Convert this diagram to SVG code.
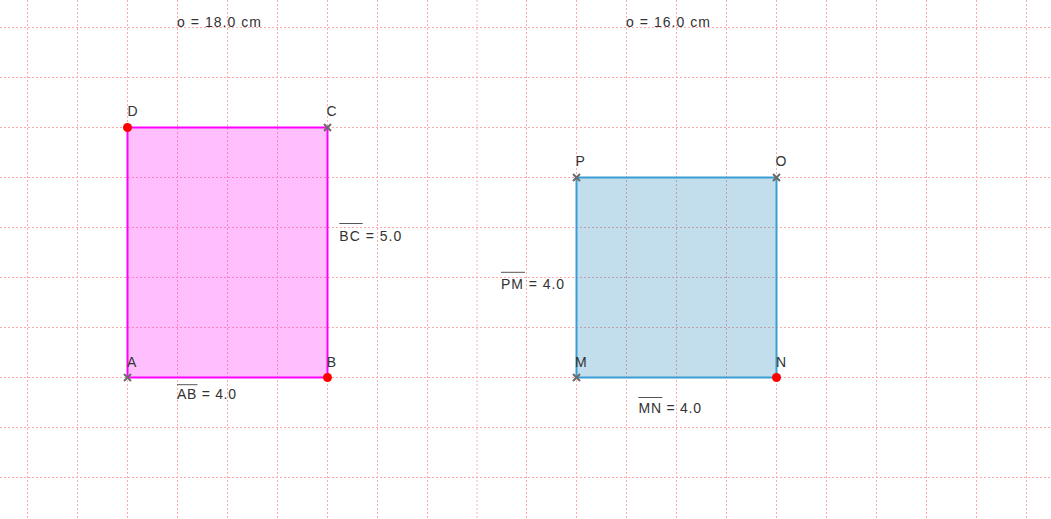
<svg xmlns="http://www.w3.org/2000/svg" width="1051" height="519" viewBox="0 0 1051 519">
<style>
.grid line{stroke:#ffaaaa;stroke-width:1;stroke-dasharray:2,2}
.t{font-family:"Liberation Sans",Arial,sans-serif;font-size:14px;fill:#333}
.ov{stroke:#555;stroke-width:1}
.xm{stroke:#6b6b6b;stroke-width:2;fill:none}
.dot{fill:#ff0000}
</style>
<defs>
<path id="xmark" class="xm" d="M-3.5,-3.5L3.5,3.5M-3.5,3.5L3.5,-3.5"/>
</defs>
<rect width="1051" height="519" fill="#ffffff"/>
<g class="grid" id="grid">
<line x1="27.5" y1="0" x2="27.5" y2="519"/>
<line x1="77.5" y1="0" x2="77.5" y2="519"/>
<line x1="127.5" y1="0" x2="127.5" y2="519"/>
<line x1="177.5" y1="0" x2="177.5" y2="519"/>
<line x1="227.5" y1="0" x2="227.5" y2="519"/>
<line x1="277.5" y1="0" x2="277.5" y2="519"/>
<line x1="327.5" y1="0" x2="327.5" y2="519"/>
<line x1="377.5" y1="0" x2="377.5" y2="519"/>
<line x1="427.5" y1="0" x2="427.5" y2="519"/>
<line x1="477" y1="0" x2="477" y2="519"/>
<line x1="526.5" y1="0" x2="526.5" y2="519"/>
<line x1="576.5" y1="0" x2="576.5" y2="519"/>
<line x1="626.5" y1="0" x2="626.5" y2="519"/>
<line x1="676.5" y1="0" x2="676.5" y2="519"/>
<line x1="726.5" y1="0" x2="726.5" y2="519"/>
<line x1="776.5" y1="0" x2="776.5" y2="519"/>
<line x1="826.5" y1="0" x2="826.5" y2="519"/>
<line x1="876.5" y1="0" x2="876.5" y2="519"/>
<line x1="926.5" y1="0" x2="926.5" y2="519"/>
<line x1="976.5" y1="0" x2="976.5" y2="519"/>
<line x1="1026.5" y1="0" x2="1026.5" y2="519"/>
<line x1="0" y1="27.5" x2="1051" y2="27.5"/>
<line x1="0" y1="77.5" x2="1051" y2="77.5"/>
<line x1="0" y1="127.5" x2="1051" y2="127.5"/>
<line x1="0" y1="177.5" x2="1051" y2="177.5"/>
<line x1="0" y1="227.5" x2="1051" y2="227.5"/>
<line x1="0" y1="277.5" x2="1051" y2="277.5"/>
<line x1="0" y1="327.5" x2="1051" y2="327.5"/>
<line x1="0" y1="377.5" x2="1051" y2="377.5"/>
<line x1="0" y1="427.5" x2="1051" y2="427.5"/>
<line x1="0" y1="477.5" x2="1051" y2="477.5"/>
</g>
<text class="t" x="177" y="26.7" textLength="84" lengthAdjust="spacing">o = 18.0 cm</text>
<text class="t" x="626" y="26.7" textLength="84" lengthAdjust="spacing">o = 16.0 cm</text>
<g id="ABCD">
<polygon points="127.5,377.5 327.5,377.5 327.5,127.5 127.5,127.5" fill="#ff00ff" fill-opacity="0.25" stroke="#ff00ff" stroke-width="2"/>
<use href="#xmark" x="127.5" y="377.5"/>
<use href="#xmark" x="327.5" y="127.5"/>
<circle class="dot" cx="127.5" cy="127.5" r="4.5"/>
<circle class="dot" cx="327.5" cy="377.5" r="4.5"/>
<text class="t" x="127.5" y="115.5">D</text>
<text class="t" x="326.5" y="115.5">C</text>
<text class="t" x="127" y="366.7">A</text>
<text class="t" x="326.7" y="366.7">B</text>
<text class="t" x="177" y="399.3" textLength="59" lengthAdjust="spacing">AB = 4.0</text>
<line class="ov" x1="177" y1="384.7" x2="197.5" y2="384.7"/>
<text class="t" x="339.3" y="240.5" textLength="62" lengthAdjust="spacing">BC = 5.0</text>
<line class="ov" x1="339.3" y1="223.5" x2="362.7" y2="223.5"/>
</g>
<g id="MNOP">
<polygon points="576.5,377.5 776.5,377.5 776.5,177.5 576.5,177.5" fill="#0a7bb7" fill-opacity="0.25" stroke="#3a9dd4" stroke-width="2"/>
<use href="#xmark" x="576.5" y="377.5"/>
<use href="#xmark" x="576.5" y="177.5"/>
<use href="#xmark" x="776.5" y="177.5"/>
<circle class="dot" cx="776.5" cy="377.5" r="4.5"/>
<text class="t" x="575.5" y="166">P</text>
<text class="t" x="775.5" y="166">O</text>
<text class="t" x="575" y="366.7">M</text>
<text class="t" x="776" y="366.7">N</text>
<text class="t" x="501" y="289.3" textLength="63" lengthAdjust="spacing">PM = 4.0</text>
<line class="ov" x1="501" y1="272.3" x2="525" y2="272.3"/>
<text class="t" x="638.5" y="412.8" textLength="62.5" lengthAdjust="spacing">MN = 4.0</text>
<line class="ov" x1="638.3" y1="397.5" x2="662.3" y2="397.5"/>
</g>
</svg>
